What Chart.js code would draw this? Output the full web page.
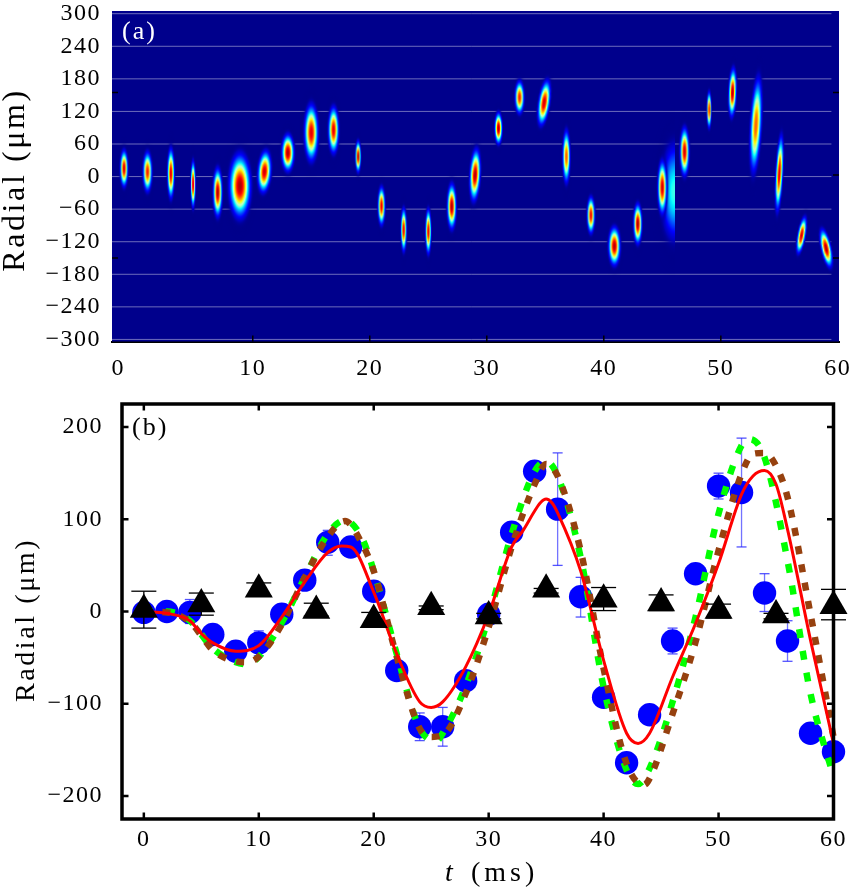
<!DOCTYPE html>
<html>
<head>
<meta charset="utf-8">
<script src="https://cdn.jsdelivr.net/npm/chart.js@4"></script>
<style>
  body { margin: 0; background: #fff; }
  canvas { position: absolute; left: 0; }
  #panelA { top: 0; }
  #panelB { top: 385px; }
</style>
</head>
<body>
<canvas id="panelA" width="855" height="385"></canvas>
<canvas id="panelB" width="855" height="503"></canvas>
<script>
// Panel (a): atom cloud spots, time (ms) / radial (um), full visible width and height
const spotTime = [-1, 1, 3, 4.9, 7, 8.9, 11, 13, 15, 16.9, 19, 21, 22.9, 25, 27, 29, 31, 32.8, 34.9, 36.8, 38.9, 40.9, 42.9, 45, 46.9, 49, 51, 53, 55, 56.9, 59];
const spotRadial = [15, 9, 6, -14, -29, -17, 9, 44, 81, 86, 37, -54, -98, -101, -55, 3, 89, 146, 136, 37, -71, -128, -87, -20, 46, 123, 155, 95, 6, -108, -132];
const spotWidth = [0.68, 0.8, 0.63, 0.43, 0.8, 1.85, 1.14, 1.08, 1.2, 0.91, 0.48, 0.63, 0.51, 0.51, 0.8, 0.91, 0.68, 0.8, 0.97, 0.68, 0.68, 1.02, 0.74, 0.8, 0.8, 0.4, 0.68, 0.97, 0.63, 0.68, 0.85];
const spotHeight = [68, 74, 92, 86, 89, 117, 77, 68, 104, 86, 58, 71, 80, 83, 83, 95, 58, 61, 83, 98, 68, 71, 74, 98, 89, 68, 89, 175, 138, 68, 71];
const spotPeak = [0.92, 0.85, 0.9, 0.92, 0.95, 0.95, 0.92, 0.95, 0.9, 0.9, 0.95, 0.9, 0.9, 0.9, 0.95, 0.95, 0.95, 0.85, 0.92, 0.78, 0.88, 0.95, 0.95, 0.92, 0.92, 0.88, 0.95, 0.78, 0.9, 0.92, 0.95];
const spotTilt = [0, 0, 0, 0, 0, 0, 4, 0, 0, 0, 0, 0, 0, 0, 0, 3, 0, 0, 8, 0, 0, 0, 0, 0, 0, 0, 2, 3, 3, 10, -12];
// the cut off cyan smear next to the 45 ms spot
const tailTime = [46.04];
const tailRadial = [-28];
const tailWidth = [2.56];
const tailHeight = [190];
const tailPeak = [0.4];

const yTicksA = [300, 240, 180, 120, 60, 0, -60, -120, -180, -240, -300];
const yLabelsA = ["300", "240", "180", "120", "60", "0", "−60", "−120", "−180", "−240", "−300"];
const xTicksA = [-1.5, 10, 20, 30, 40, 50, 60];
const xLabelsA = ["0", "10", "20", "30", "40", "50", "60"];
const sideTicksLeftA = [155, -150];
const sideTicksRightA = [155, 3, -150];
const bottomTicksA = [10, 20, 30, 40, 50];

// Panel (b)
const blueTime = [0, 2, 4, 6, 8, 10, 12, 14, 16, 18, 20, 22, 24, 26, 28, 30, 32, 34, 36, 38, 40, 42, 44, 46, 48, 50, 52, 54, 56, 58, 60];
const blueValue = [-1, 0, -1, -25, -43, -34, -3, 34, 75, 70, 22, -64, -125, -125, -75, -3, 86, 152, 111, 16, -93, -164, -112, -32, 41, 136, 129, 20, -32, -132, -152];
const blueLow = [null, null, -13, null, null, -48, null, null, 61, null, null, null, -140, -146, null, null, null, null, 50, -6, null, null, null, -46, null, 122, 70, 0, -54, null, null];
const blueHigh = [null, null, 13, null, null, -21, null, null, 88, null, null, null, -110, -104, null, null, null, null, 172, 37, null, null, null, -18, null, 150, 188, 41, -10, null, null];

const blackTime = [0, 5, 10, 15, 20, 25, 30, 35, 40, 45, 50, 55, 60];
const blackValue = [2, 8, 24, 1, -9, 5, -5, 24, 13, 9, 1, -4, 6];
const blackLow = [-18, -4, 17, -5, -17, 2, -8, 20, 1, 1, -7, -8, -9];
const blackHigh = [22, 20, 31, 9, -1, 6, -2, 25, 26, 18, 8, -2, 24];

const redTime = [0, 2, 4, 5, 6, 8, 10, 12, 14, 16, 17.2, 18, 20, 22, 24, 25, 26, 28, 30, 32, 33, 34, 34.5, 35, 35.5, 36, 38, 40, 42, 43, 44, 46, 48, 50, 52, 53, 54, 55, 56, 58, 60];
const redValue = [0, -2, -10, -24, -34, -43, -37, -6, 32, 64, 71, 70, 21, -46, -98, -104, -98, -60, -3, 70, 88, 109, 118, 122, 118, 107, 44, -53, -132, -143, -132, -71, -13, 52, 127, 147, 153, 138, 89, -31, -143];

const greenTime = [0, 2, 4, 6, 8, 9, 10, 12, 14, 16, 17.5, 19, 20, 22, 24, 25.5, 26, 28, 30, 32, 34, 35, 36, 38, 40, 42, 43, 44, 46, 48, 50, 52, 52.7, 54, 56, 58, 60];
const greenValue = [0, 0, -10, -40, -55, -57, -49, -12, 37, 84, 99, 79, 44, -46, -127, -140, -132, -81, -6, 84, 152, 163, 147, 59, -82, -172, -187, -170, -98, -6, 106, 180, 187, 167, 55, -89, -179];

const brownTime = [0, 2, 4, 5, 6, 8, 9, 10, 12, 14, 16, 17.5, 19, 20, 22, 24, 25, 26, 28, 30, 32, 34, 35, 36, 38, 40, 42, 43.5, 44, 46, 48, 50, 52, 53, 54, 55, 56, 58, 60];
const brownValue = [0, -1, -11, -26, -42, -54, -55, -49, -14, 37, 81, 98, 73, 44, -49, -127, -136, -134, -89, -17, 70, 138, 160, 147, 66, -62, -165, -188, -181, -111, -33, 66, 149, 171, 172, 158, 124, -3, -136];

const xTicksB = [0, 10, 20, 30, 40, 50, 60];
const yTicksB = [-200, -100, 0, 100, 200];
const yLabelsB = ["−200", "−100", "0", "100", "200"];

const serif = "'Liberation Serif', serif";
Chart.defaults.animation = false;
Chart.defaults.responsive = false;
Chart.defaults.color = "#000";
Chart.defaults.plugins.legend.display = false;
Chart.defaults.plugins.tooltip.enabled = false;

function toPoints(xs, ys) {
  return xs.map((x, i) => ({ x: x, y: ys[i] }));
}

// lines with a gap between them, used for the error bars
function toSegments(xs, lows, highs) {
  let pts = [];
  xs.forEach((x, i) => {
    if (lows[i] === null) return;
    pts.push({ x: x, y: lows[i] }, { x: x, y: highs[i] }, { x: x, y: null });
  });
  return pts;
}

// jet colormap, washed out a bit in the middle like the picture
function jet(v) {
  let ramp = (c) => Math.max(0, Math.min(1, 1.5 - Math.abs(4 * v - c)));
  let wash = Math.max(0, 1 - Math.abs(v - 0.5) / 0.14) * 0.55;
  let mix = (c) => (c + (1 - c) * wash) * 255;
  return [mix(ramp(3)), mix(ramp(2)), mix(ramp(1))];
}

function makeSpot(widthPx, heightPx, peak, halfOnly) {
  let sx = widthPx / 2 / 1.367;
  let sy = heightPx / 2 / 1.367;
  let w = Math.ceil(sx * 5);
  let h = Math.ceil(sy * 5);
  let c = document.createElement("canvas");
  c.width = w;
  c.height = h;
  let g = c.getContext("2d");
  let img = g.createImageData(w, h);
  for (let j = 0; j < h; j++) {
    for (let i = 0; i < w; i++) {
      if (halfOnly && i >= w / 2) continue;
      let dx = (i - w / 2 + 0.5) / sx;
      let dy = (j - h / 2 + 0.5) / sy;
      let v = peak * Math.exp(-Math.pow(dx * dx + dy * dy, 1.2));
      let rgb = jet(v);
      let k = (j * w + i) * 4;
      img.data[k] = rgb[0];
      img.data[k + 1] = rgb[1];
      img.data[k + 2] = rgb[2];
      img.data[k + 3] = Math.min(1, v / 0.06) * 255;
    }
  }
  g.putImageData(img, 0, 0);
  return c;
}

function inwardTicks(ctx, chart, opts) {
  let a = chart.chartArea;
  let x = chart.scales.x;
  let y = chart.scales.y;
  ctx.save();
  ctx.strokeStyle = "#000";
  ctx.lineWidth = opts.width;
  ctx.beginPath();
  (opts.bottom || []).forEach((v) => {
    let p = x.getPixelForValue(v);
    ctx.moveTo(p, a.bottom);
    ctx.lineTo(p, a.bottom - opts.length);
  });
  (opts.top || []).forEach((v) => {
    let p = x.getPixelForValue(v);
    ctx.moveTo(p, a.top);
    ctx.lineTo(p, a.top + opts.length);
  });
  (opts.left || []).forEach((v) => {
    let p = y.getPixelForValue(v);
    ctx.moveTo(a.left, p);
    ctx.lineTo(a.left + opts.length, p);
  });
  (opts.right || []).forEach((v) => {
    let p = y.getPixelForValue(v);
    ctx.moveTo(a.right, p);
    ctx.lineTo(a.right - opts.length, p);
  });
  ctx.stroke();
  ctx.restore();
}

function sideTitle(ctx, text, x, y, size) {
  ctx.save();
  ctx.translate(x, y);
  ctx.rotate(-Math.PI / 2);
  ctx.textAlign = "center";
  ctx.textBaseline = "middle";
  ctx.fillStyle = "#000";
  ctx.font = size + "px " + serif;
  ctx.letterSpacing = "2.6px";
  ctx.fillText(text, 0, 0);
  ctx.restore();
}

const spacingPlugin = {
  id: "spacing",
  beforeDraw(chart) {
    chart.ctx.letterSpacing = "1.5px";
  },
};

// Panel (a)
let chartA = new Chart(document.getElementById("panelA").getContext("2d"), {
  type: "scatter",
  data: {
    datasets: [
      {
        label: "Spots",
        data: toPoints(spotTime, spotRadial),
        pointStyle: "circle",
        rotation: spotTilt,
      },
      {
        label: "Smear",
        data: toPoints(tailTime, tailRadial),
        pointStyle: "circle",
      },
      {
        label: "Rows",
        data: yTicksA.flatMap((v) => [{ x: -2.03, y: v }, { x: 59.45, y: v }, { x: null, y: null }]),
        showLine: true,
        spanGaps: false,
        borderColor: "rgba(215,215,235,0.5)",
        borderWidth: 1,
        pointRadius: 0,
      },
    ],
  },
  options: {
    layout: { padding: { top: 11, right: 16, left: 0, bottom: 0 } },
    scales: {
      x: {
        min: -2.03,
        max: 60.1,
        afterFit(scale) {
          scale.height = 43.5;
          scale.paddingLeft = 0;
          scale.paddingRight = 0;
        },
        afterBuildTicks(scale) { scale.ticks = xTicksA.map((v) => ({ value: v })); },
        grid: { display: false },
        border: { display: true, color: "#000", width: 2 },
        ticks: {
          autoSkip: false,
          maxRotation: 0,
          padding: 5,
          font: { family: serif, size: 24 },
          callback: (v) => xLabelsA[xTicksA.indexOf(v)],
        },
      },
      y: {
        min: -303.8,
        max: 305,
        afterFit(scale) {
          scale.width = 112;
          scale.paddingTop = 0;
          scale.paddingBottom = 0;
        },
        afterBuildTicks(scale) { scale.ticks = yTicksA.map((v) => ({ value: v })); },
        grid: { display: false },
        border: { display: false },
        ticks: {
          autoSkip: false,
          padding: 3,
          font: { family: serif, size: 24 },
          callback: (v) => yLabelsA[yTicksA.indexOf(v)],
        },
      },
    },
  },
  plugins: [
    spacingPlugin,
    {
      id: "panelBack",
      beforeDatasetsDraw(chart) {
        let a = chart.chartArea;
        chart.ctx.save();
        chart.ctx.fillStyle = "#00008c";
        chart.ctx.fillRect(a.left, a.top, a.right - a.left, a.bottom - a.top);
        chart.ctx.restore();
      },
      afterDraw(chart) {
        let ctx = chart.ctx;
        inwardTicks(ctx, chart, { width: 1.5, length: 6, bottom: bottomTicksA, left: sideTicksLeftA, right: sideTicksRightA });
        sideTitle(ctx, "Radial (μm)", 16, 180, 32);
        ctx.save();
        ctx.fillStyle = "#fff";
        ctx.font = "26px " + serif;
        ctx.letterSpacing = "2px";
        ctx.fillText("(a)", 122, 39);
        ctx.restore();
      },
    },
  ],
});

// sprite sizes follow the scales of the finished chart
let xA = chartA.scales.x;
let yA = chartA.scales.y;
let pxPerMs = (xA.right - xA.left) / (xA.max - xA.min);
let pxPerUm = (yA.bottom - yA.top) / (yA.max - yA.min);
chartA.data.datasets[0].pointStyle = spotTime.map((t, i) => makeSpot(spotWidth[i] * pxPerMs, spotHeight[i] * pxPerUm, spotPeak[i], false));
chartA.data.datasets[1].pointStyle = tailTime.map((t, i) => makeSpot(tailWidth[i] * pxPerMs, tailHeight[i] * pxPerUm, tailPeak[i], true));
chartA.update("none");

// Panel (b)
new Chart(document.getElementById("panelB").getContext("2d"), {
  type: "scatter",
  data: {
    datasets: [
      {
        label: "Black triangles",
        data: toPoints(blackTime, blackValue),
        pointStyle: "triangle",
        pointRadius: 16.2,
        pointBackgroundColor: "#000",
        pointBorderWidth: 0,
      },
      {
        label: "Black error bars",
        data: toSegments(blackTime, blackLow, blackHigh),
        showLine: true,
        spanGaps: false,
        borderColor: "#000",
        borderWidth: 1.3,
        pointStyle: "line",
        pointRadius: 12.5,
        pointBorderColor: "#000",
        pointBorderWidth: 1.3,
      },
      {
        label: "Red",
        data: toPoints(redTime, redValue),
        showLine: true,
        borderColor: "#ff0000",
        borderWidth: 3,
        cubicInterpolationMode: "monotone",
        pointRadius: 0,
      },
      {
        label: "Brown",
        data: toPoints(brownTime, brownValue),
        showLine: true,
        borderColor: "#96410f",
        borderWidth: 6.5,
        borderDash: [8, 10.5],
        cubicInterpolationMode: "monotone",
        pointRadius: 0,
      },
      {
        label: "Green",
        data: toPoints(greenTime, greenValue),
        showLine: true,
        borderColor: "#00ff00",
        borderWidth: 6.5,
        borderDash: [9, 13],
        cubicInterpolationMode: "monotone",
        pointRadius: 0,
      },
      {
        label: "Blue circles",
        data: toPoints(blueTime, blueValue),
        pointStyle: "circle",
        pointRadius: 11.7,
        pointBackgroundColor: "#0000ff",
        pointBorderWidth: 0,
      },
      {
        label: "Blue error bars",
        data: toSegments(blueTime, blueLow, blueHigh),
        showLine: true,
        spanGaps: false,
        borderColor: "rgba(40,40,255,0.65)",
        borderWidth: 1.3,
        pointStyle: "line",
        pointRadius: 5,
        pointBorderColor: "rgba(40,40,255,0.8)",
        pointBorderWidth: 1.3,
      },
    ],
  },
  options: {
    clip: false,
    layout: { padding: { top: 19, right: 21.5, left: 0, bottom: 0 } },
    scales: {
      x: {
        min: -1.9,
        max: 60,
        afterFit(scale) {
          scale.height = 69;
          scale.paddingLeft = 0;
          scale.paddingRight = 0;
        },
        afterBuildTicks(scale) { scale.ticks = xTicksB.map((v) => ({ value: v })); },
        grid: { display: false },
        border: { display: false },
        ticks: {
          autoSkip: false,
          maxRotation: 0,
          padding: -2,
          font: { family: serif, size: 24 },
        },
      },
      y: {
        min: -225,
        max: 225,
        afterFit(scale) {
          scale.width = 122;
          scale.paddingTop = 0;
          scale.paddingBottom = 0;
        },
        afterBuildTicks(scale) { scale.ticks = yTicksB.map((v) => ({ value: v })); },
        grid: { display: false },
        border: { display: false },
        ticks: {
          autoSkip: false,
          padding: 11,
          font: { family: serif, size: 24 },
          callback: (v) => yLabelsB[yTicksB.indexOf(v)],
        },
      },
    },
  },
  plugins: [
    spacingPlugin,
    {
      id: "frame",
      afterDraw(chart) {
        let ctx = chart.ctx;
        let a = chart.chartArea;
        ctx.save();
        ctx.strokeStyle = "#000";
        ctx.lineWidth = 3.5;
        ctx.strokeRect(a.left, a.top, a.right - a.left, a.bottom - a.top);
        ctx.restore();
        inwardTicks(ctx, chart, { width: 2.5, length: 6.5, bottom: xTicksB, top: xTicksB, left: yTicksB, right: yTicksB });
        sideTitle(ctx, "Radial (μm)", 27, 235, 28);
        ctx.save();
        ctx.fillStyle = "#000";
        ctx.font = "26px " + serif;
        ctx.letterSpacing = "2px";
        ctx.fillText("(b)", 132, 50);
        // axis title, the t is italic
        ctx.font = "italic 28px " + serif;
        ctx.fillText("t", 445, 496);
        ctx.font = "28px " + serif;
        ctx.letterSpacing = "4px";
        ctx.fillText("(ms)", 471, 496);
        ctx.restore();
      },
    },
  ],
});
</script>
</body>
</html>
